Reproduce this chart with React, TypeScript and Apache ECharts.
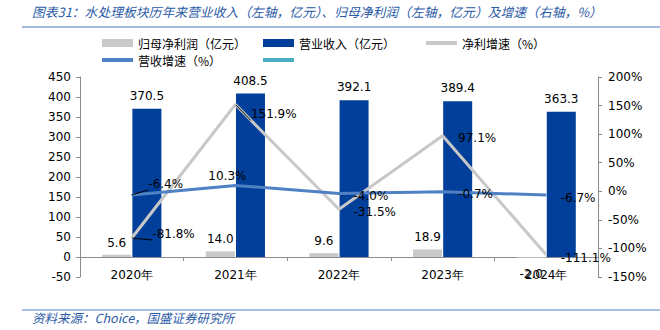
import React, { useEffect, useRef } from "react";
import * as echarts from "echarts";

const years = ["2020年", "2021年", "2022年", "2023年", "2024年"];
const netProfit = [5.6, 14.0, 9.6, 18.9, -2.0];
const revenue = [370.5, 408.5, 392.1, 389.4, 363.3];
const profitGrowth = [-81.8, 151.9, -31.5, 97.1, -111.1];
const revenueGrowth = [-6.4, 10.3, -4.0, -0.7, -6.7];

const profitGrowthOffsets: [number, number][] = [[15, -4], [10, 10], [9, 3], [10, 2], [9, 3]];
const revenueGrowthOffsets: [number, number][] = [[11, -11], [-8, 2], [9, 2], [10, 2], [9, 3]];
const profitGrowthHooks = [true, true, false, false, false];
const revenueGrowthHooks = [true, false, false, false, false];

const FONT = "DejaVu Sans";
const CJK = "Noto Sans CJK SC";

export default function App() {
  const ref = useRef<HTMLDivElement>(null);
  useEffect(() => {
    const chart = echarts.init(ref.current!, null, { renderer: "svg" });
    const legendText = { fontFamily: CJK, fontSize: 12, color: "#000" };
    const mkLegend = (name: string, left: number, top: number, h: number) => ({
      data: [name],
      left,
      top,
      padding: 0,
      icon: "rect",
      itemWidth: 31,
      itemHeight: h,
      itemGap: 4,
      textStyle: legendText,
    });
    const pct = (v: number) => v.toFixed(1) + "%";
    const lineLabel = {
      show: true,
      fontFamily: FONT,
      fontSize: 12,
      color: "#000",
      formatter: (p: any) => pct(Number(p.value)),
    };
    chart.setOption({
      animation: false,
      title: {
        text: "图表31：水处理板块历年来营业收入（左轴，亿元）、归母净利润（左轴，亿元）及增速（右轴，%）",
        left: 32,
        top: 5,
        padding: 0,
        textStyle: { fontFamily: CJK, fontSize: 12.8, fontStyle: "italic", fontWeight: "normal", color: "#2a5aa6" },
      },
      graphic: [
        { type: "line", shape: { x1: 22, y1: 27, x2: 660, y2: 27 }, style: { stroke: "#a3badf", lineWidth: 2 } },
        { type: "line", shape: { x1: 22, y1: 310, x2: 660, y2: 310 }, style: { stroke: "#4f7fc4", lineWidth: 1.2 } },
        {
          type: "text",
          left: 32,
          top: 311,
          style: { text: "资料来源：Choice，国盛证券研究所", fontFamily: CJK, fontSize: 12.5, fontStyle: "italic", fill: "#2a5aa6" },
        },
      ],
      legend: [
        mkLegend("归母净利润（亿元）", 102, 37, 8),
        mkLegend("营业收入（亿元）", 263, 37, 8),
        mkLegend("净利增速（%）", 426, 37, 4),
        mkLegend("营收增速（%）", 102, 54, 4),
        mkLegend(" ", 263, 54, 4),
      ],
      grid: { left: 80, right: 62, top: 77, bottom: 53 },
      xAxis: {
        type: "category",
        data: years,
        axisLine: { onZero: true, lineStyle: { color: "#8c8c8c" } },
        axisTick: { show: true, length: 4, lineStyle: { color: "#8c8c8c" } },
        axisLabel: { fontFamily: FONT, fontSize: 12, color: "#000", margin: -8 },
      },
      yAxis: [
        {
          type: "value",
          min: -50,
          max: 450,
          interval: 50,
          splitLine: { show: false },
          axisLine: { show: true, lineStyle: { color: "#8c8c8c" } },
          axisTick: { show: true, length: 4, lineStyle: { color: "#8c8c8c" } },
          axisLabel: { fontFamily: FONT, fontSize: 12, color: "#000", margin: 9 },
        },
        {
          type: "value",
          min: -150,
          max: 200,
          interval: 50,
          position: "right",
          splitLine: { show: false },
          axisLine: { show: true, lineStyle: { color: "#8c8c8c" } },
          axisTick: { show: true, length: 4, lineStyle: { color: "#8c8c8c" } },
          axisLabel: { fontFamily: FONT, fontSize: 12, color: "#000", margin: 10, formatter: "{value}%" },
        },
      ],
      series: [
        {
          name: "归母净利润（亿元）",
          type: "bar",
          barWidth: 29,
          barGap: "4%",
          itemStyle: { color: "#c9c9c9" },
          data: netProfit.map((v) => ({
            value: v,
            label: v < 0 ? { position: "bottom", distance: 10 } : {},
          })),
          label: {
            show: true,
            position: "top",
            distance: 6,
            fontFamily: FONT,
            fontSize: 12,
            color: "#000",
            formatter: (p: any) => Number(p.value).toFixed(1),
          },
        },
        {
          name: "营业收入（亿元）",
          type: "bar",
          barWidth: 29,
          itemStyle: { color: "#013f9a" },
          data: revenue,
          label: {
            show: true,
            position: "top",
            distance: 7,
            fontFamily: FONT,
            fontSize: 12,
            color: "#000",
            formatter: (p: any) => Number(p.value).toFixed(1),
          },
        },
        {
          name: "净利增速（%）",
          type: "line",
          yAxisIndex: 1,
          symbol: "circle",
          symbolSize: 1,
          showSymbol: true,
          lineStyle: { color: "#c8c8c8", width: 3 },
          itemStyle: { color: "#c8c8c8" },
          data: profitGrowth.map((v, i) => ({
            value: v,
            label: { position: "right", offset: profitGrowthOffsets[i] },
            labelLine: { show: profitGrowthHooks[i] },
          })),
          label: lineLabel,
          labelLine: { show: false, lineStyle: { color: "#000", width: 1 } },
          z: 3,
        },
        {
          name: "营收增速（%）",
          type: "line",
          yAxisIndex: 1,
          symbol: "circle",
          symbolSize: 1,
          showSymbol: true,
          lineStyle: { color: "#4f81c4", width: 3 },
          itemStyle: { color: "#4f81c4" },
          data: revenueGrowth.map((v, i) => ({
            value: v,
            label: { position: i === 1 ? "top" : "right", offset: revenueGrowthOffsets[i] },
            labelLine: { show: revenueGrowthHooks[i] },
          })),
          label: lineLabel,
          labelLine: { show: false, lineStyle: { color: "#000", width: 1 } },
          z: 4,
        },
        {
          name: " ",
          type: "line",
          yAxisIndex: 1,
          symbol: "none",
          lineStyle: { color: "#4bacc6", width: 3 },
          itemStyle: { color: "#4bacc6" },
          data: [],
        },
      ],
    });
    return () => chart.dispose();
  }, []);
  return <div ref={ref} style={{ width: 660, height: 330, position: "absolute", left: 0, top: 0 }} />;
}
